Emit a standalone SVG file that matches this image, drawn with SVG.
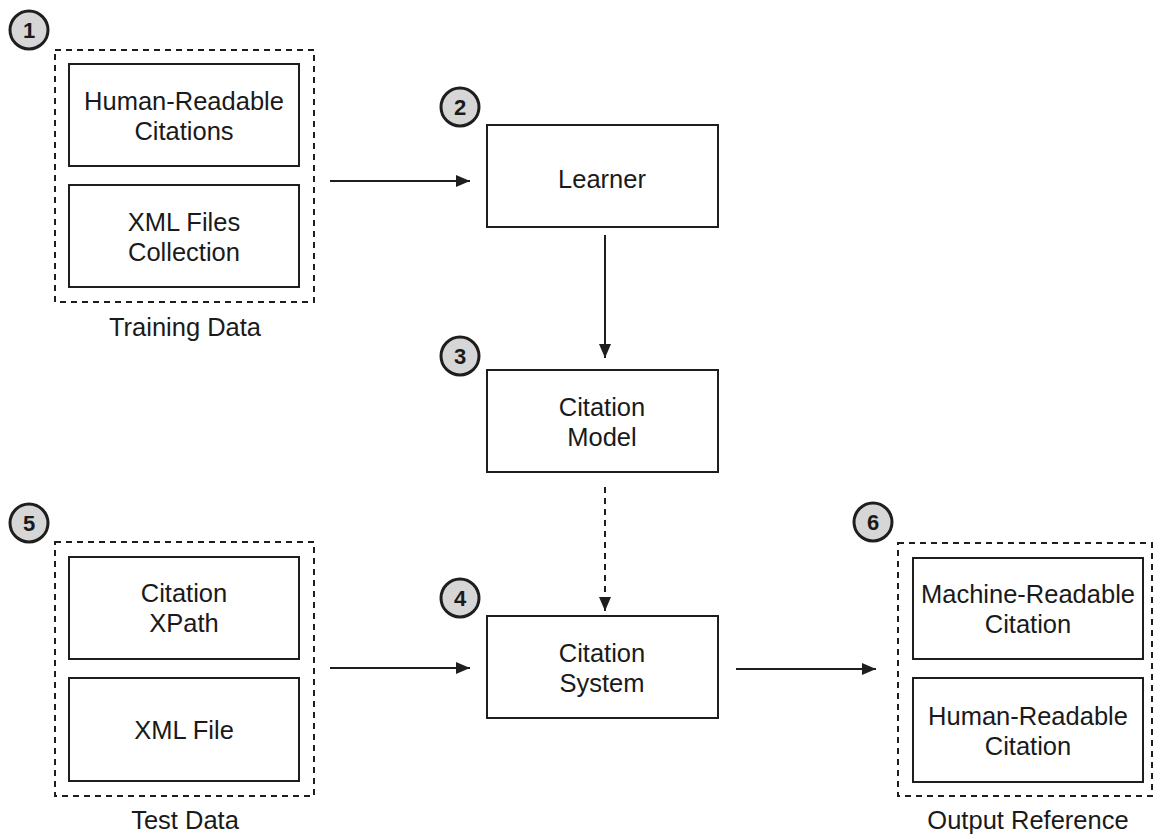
<svg xmlns="http://www.w3.org/2000/svg" width="1154" height="834" viewBox="0 0 1154 834">
<style>
.box{fill:#fff;stroke:#1e1e1e;stroke-width:2}
.grp{fill:none;stroke:#1e1e1e;stroke-width:2;stroke-dasharray:6 5}
.t{font-family:"Liberation Sans",Arial,sans-serif;font-size:25.5px;fill:#1a1a1a;text-anchor:middle}
.badge{fill:#d6d6d6;stroke:#1e1e1e;stroke-width:3}
.num{font-family:"Liberation Sans",Arial,sans-serif;font-size:22px;font-weight:bold;fill:#1a1a1a;text-anchor:middle}
.ln{fill:none;stroke:#1e1e1e;stroke-width:2}
.dash{stroke-dasharray:6 5}
</style>
<defs>
<marker id="ah" viewBox="0 0 14 12" refX="14" refY="6" markerWidth="14" markerHeight="12" markerUnits="userSpaceOnUse" orient="auto">
<path d="M0,0 L14,6 L0,12 Z" fill="#1e1e1e"/>
</marker>
</defs>
<rect width="1154" height="834" fill="#fff"/>

<g id="connectors">
<line class="ln" x1="330" y1="181" x2="470" y2="181" marker-end="url(#ah)"/>
<line class="ln" x1="605" y1="235" x2="605" y2="358" marker-end="url(#ah)"/>
<line class="ln dash" x1="605" y1="487" x2="605" y2="611" marker-end="url(#ah)"/>
<line class="ln" x1="330" y1="668" x2="470" y2="668" marker-end="url(#ah)"/>
<line class="ln" x1="736" y1="669" x2="876" y2="669" marker-end="url(#ah)"/>
</g>

<g id="training-data">
<rect class="grp" x="55" y="50" width="259" height="252"/>
<circle class="badge" cx="29" cy="30" r="19"/>
<text class="num" x="29" y="38">1</text>
<g id="human-readable-citations">
<rect class="box" x="69" y="64" width="230" height="102"/>
<text class="t" x="184" y="110">Human-Readable</text>
<text class="t" x="184" y="140">Citations</text>
</g>
<g id="xml-files-collection">
<rect class="box" x="69" y="185" width="230" height="102"/>
<text class="t" x="184" y="231">XML Files</text>
<text class="t" x="184" y="261">Collection</text>
</g>
<text class="t" x="185" y="336">Training Data</text>
</g>

<g id="learner">
<circle class="badge" cx="460" cy="107" r="19"/>
<text class="num" x="460" y="115">2</text>
<rect class="box" x="487" y="125" width="231" height="102"/>
<text class="t" x="602" y="188">Learner</text>
</g>

<g id="citation-model">
<circle class="badge" cx="460" cy="356" r="19"/>
<text class="num" x="460" y="364">3</text>
<rect class="box" x="487" y="370" width="231" height="102"/>
<text class="t" x="602" y="416">Citation</text>
<text class="t" x="602" y="446">Model</text>
</g>

<g id="citation-system">
<circle class="badge" cx="460" cy="598" r="19"/>
<text class="num" x="460" y="606">4</text>
<rect class="box" x="487" y="616" width="231" height="102"/>
<text class="t" x="602" y="662">Citation</text>
<text class="t" x="602" y="692">System</text>
</g>

<g id="test-data">
<rect class="grp" x="55" y="542" width="259" height="254"/>
<circle class="badge" cx="29" cy="523" r="19"/>
<text class="num" x="29" y="531">5</text>
<g id="citation-xpath">
<rect class="box" x="69" y="557" width="230" height="102"/>
<text class="t" x="184" y="602">Citation</text>
<text class="t" x="184" y="632">XPath</text>
</g>
<g id="xml-file">
<rect class="box" x="69" y="678" width="230" height="103"/>
<text class="t" x="184" y="739">XML File</text>
</g>
<text class="t" x="185" y="829">Test Data</text>
</g>

<g id="output-reference">
<rect class="grp" x="898" y="543" width="254" height="253"/>
<circle class="badge" cx="873" cy="522" r="19"/>
<text class="num" x="873" y="530">6</text>
<g id="machine-readable-citation">
<rect class="box" x="913" y="558" width="230" height="101"/>
<text class="t" x="1028" y="603">Machine-Readable</text>
<text class="t" x="1028" y="633">Citation</text>
</g>
<g id="human-readable-citation">
<rect class="box" x="913" y="678" width="230" height="104"/>
<text class="t" x="1028" y="725">Human-Readable</text>
<text class="t" x="1028" y="755">Citation</text>
</g>
<text class="t" x="1028" y="829">Output Reference</text>
</g>
</svg>
